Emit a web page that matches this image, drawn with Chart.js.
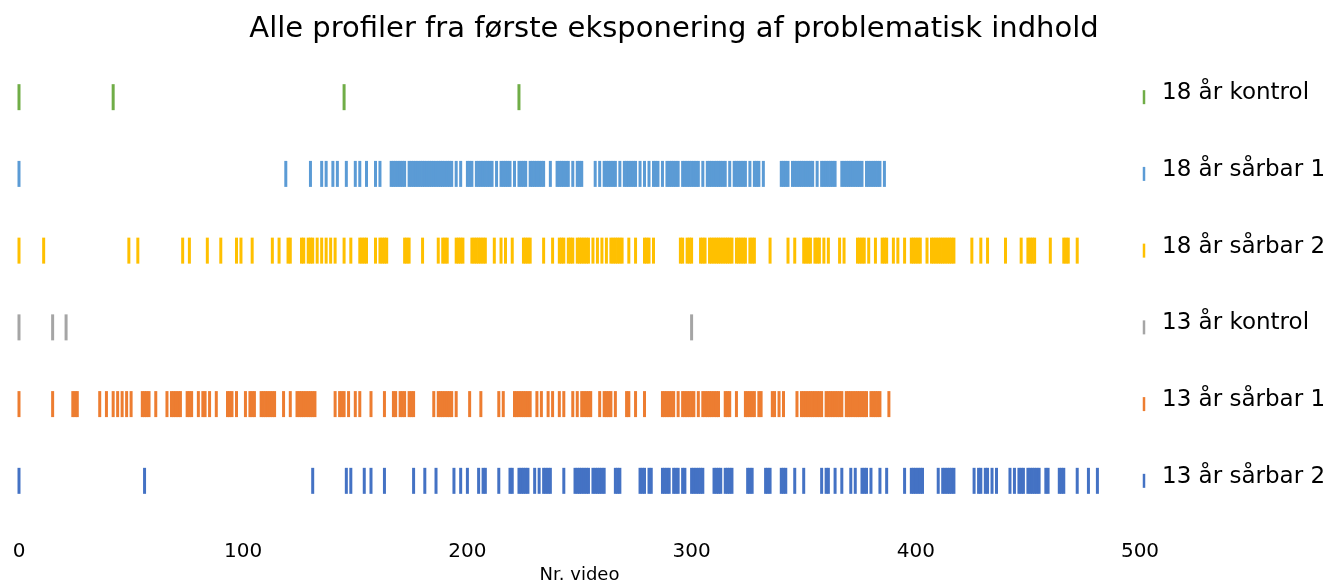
<!DOCTYPE html>
<html lang="da">
<head>
  <meta charset="UTF-8" />
  <title>Alle profiler fra første eksponering af problematisk indhold</title>
  <script src="https://cdn.jsdelivr.net/npm/chart.js"></script>
  <style>
    html, body { margin: 0; padding: 0; background: #fff; overflow: hidden; }
    #wrap { width: 1329px; height: 587px; }
  </style>
</head>
<body>
  <div id="wrap"><canvas id="chart"></canvas></div>

  <script>
    // profiles, top to bottom
    const profiles = ['18 år kontrol', '18 år sårbar 1', '18 år sårbar 2', '13 år kontrol', '13 år sårbar 1', '13 år sårbar 2'];
    const colors = ['#70AD47', '#5B9BD5', '#FFC000', '#A5A5A5', '#ED7D31', '#4472C4'];
    const xTicks = [0, 100, 200, 300, 400, 500];

    // video numbers where problematic content was shown
    const kontrol18 = [0, 42, 145, 223];

    const saarbar18a = [0, 119, 130, 135, 137, 140, 142, 146, 150, 152, 155, 159, 161,
      166, 167, 168, 169, 170, 171, 172,
      174, 175, 176, 177, 178, 179, 180, 181, 182, 183, 184, 185, 186, 187, 188, 189, 190, 191, 192, 193,
      195, 197, 200, 201, 202, 204, 205, 206, 207, 208, 209, 210, 211, 213,
      215, 216, 217, 218, 219, 221, 223, 224, 225, 226, 228, 229, 230, 231, 232, 233, 234, 237,
      240, 241, 242, 243, 244, 245, 247, 249, 250, 251, 257, 259,
      261, 262, 263, 264, 265, 266, 268, 270, 271, 272, 273, 274, 275, 277, 279, 281, 283, 284, 285, 287,
      289, 290, 291, 292, 293, 294, 296, 297, 298, 299, 300, 301, 302, 303, 305,
      307, 308, 309, 310, 311, 312, 313, 314, 315, 317, 319, 320, 321, 322, 323, 324, 326, 328, 329, 330, 332,
      340, 341, 342, 343, 345, 346, 347, 348, 349, 350, 351, 352, 353, 354, 356,
      358, 359, 360, 361, 362, 363, 364, 367, 368, 369, 370, 371, 372, 373, 374, 375, 376,
      378, 379, 380, 381, 382, 383, 384, 386];

    const saarbar18b = [0, 11, 49, 53, 73, 76, 84, 90, 97, 99, 104, 113, 116, 120, 121, 126, 127, 129, 130, 131,
      133, 135, 137, 139, 141, 145, 148, 152, 153, 154, 155, 159, 161, 162, 163, 164, 172, 173, 174, 180, 187,
      189, 190, 191, 195, 196, 197, 198, 202, 203, 204, 205, 206, 207, 208, 212, 215, 217, 220, 225, 226, 227, 228,
      234, 238, 241, 242, 243, 245, 246, 247, 249, 250, 251, 252, 253, 254, 256, 258, 260, 262,
      264, 265, 266, 267, 268, 269, 272, 275, 279, 280, 281, 283, 295, 296, 298, 299, 300, 304, 305, 306,
      308, 309, 310, 311, 312, 313, 314, 315, 316, 317, 318, 320, 321, 322, 323, 324, 326, 327, 328,
      335, 343, 346, 350, 351, 352, 353, 355, 356, 357, 359, 361, 366, 368, 374, 375, 376, 377, 379, 382,
      385, 386, 387, 390, 392, 395, 398, 399, 400, 401, 402, 405,
      407, 408, 409, 410, 411, 412, 413, 414, 415, 416, 417, 425, 429, 432, 440, 447, 450, 451, 452, 453,
      460, 466, 467, 468, 472];

    const kontrol13 = [0, 15, 21, 300];

    const saarbar13a = [0, 15, 24, 25, 26, 36, 39, 42, 44, 46, 48, 50, 55, 56, 57, 58, 61, 66, 68, 69, 70, 71, 72,
      75, 76, 77, 80, 82, 83, 85, 88, 93, 94, 95, 97, 101, 103, 104, 105, 108, 109, 110, 111, 112, 113, 114,
      118, 121, 124, 125, 126, 127, 128, 129, 130, 131, 132,
      141, 143, 144, 145, 147, 150, 152, 157, 163, 167, 168, 170, 171, 172, 174, 175, 176,
      185, 187, 188, 189, 190, 191, 192, 193, 195, 201, 206, 214, 216, 221, 222, 223, 224, 225, 226, 227, 228,
      231, 233, 236, 238, 241, 243, 247, 249, 251, 252, 253, 254, 255, 259, 261, 262, 263, 264, 266,
      271, 272, 275, 279, 287, 288, 289, 290, 291, 292, 294, 296, 297, 298, 299, 300, 301, 303,
      305, 306, 307, 308, 309, 310, 311, 312, 315, 316, 317, 320, 324, 325, 326, 327, 328, 330, 331,
      336, 337, 339, 341, 347, 349, 350, 351, 352, 353, 354, 355, 356, 357, 358,
      360, 361, 362, 363, 364, 365, 366, 367, 369, 370, 371, 372, 373, 374, 375, 376, 377, 378,
      380, 381, 382, 383, 384, 388];

    const saarbar13b = [0, 56, 131, 146, 148, 154, 157, 163, 176, 181, 186, 194, 197, 200, 205, 207, 208, 214,
      219, 220, 223, 224, 225, 226, 227, 230, 232, 234, 235, 236, 237, 243,
      248, 249, 250, 251, 252, 253, 254, 256, 257, 258, 259, 260, 261, 266, 267, 268,
      277, 278, 279, 281, 282, 287, 288, 289, 290, 292, 293, 294, 296, 297, 300, 301, 302, 303, 304, 305,
      310, 311, 312, 313, 315, 316, 317, 318, 325, 326, 327, 333, 334, 335, 340, 341, 342, 346, 350,
      358, 360, 361, 364, 367, 371, 373, 376, 377, 378, 380, 384, 387, 395, 398, 399, 400, 401, 402, 403,
      410, 412, 413, 414, 415, 416, 417, 426, 428, 429, 431, 432, 434, 436, 442, 444, 446, 447, 448,
      450, 451, 452, 453, 454, 455, 458, 459, 464, 465, 466, 472, 477, 481];

    const series = [kontrol18, saarbar18a, saarbar18b, kontrol13, saarbar13a, saarbar13b];

    const FONT = "'DejaVu Sans', sans-serif";

    // small coloured tick in front of each row label, like the original legend
    const legendMarks = {
      id: 'legendMarks',
      afterDraw(chart) {
        const { ctx, chartArea } = chart;
        const yScale = chart.scales.y;
        ctx.save();
        ctx.lineWidth = 2.5;
        profiles.forEach((p, i) => {
          const py = yScale.getPixelForValue(i);
          ctx.strokeStyle = colors[i];
          ctx.beginPath();
          ctx.moveTo(chartArea.right + 4, py - 7);
          ctx.lineTo(chartArea.right + 4, py + 7);
          ctx.stroke();
        });
        ctx.restore();
      }
    };

    new Chart(document.getElementById('chart'), {
      type: 'scatter',
      data: {
        datasets: series.map((vals, i) => ({
          label: profiles[i],
          data: vals.map(v => ({ x: v, y: profiles[i] })),
          clip: false,
          pointStyle: 'line',
          rotation: 90,
          radius: 13,
          hoverRadius: 13,
          borderWidth: 3,
          hoverBorderWidth: 3,
          borderColor: colors[i],
          backgroundColor: colors[i]
        }))
      },
      options: {
        responsive: true,
        maintainAspectRatio: false,
        animation: false,
        layout: { autoPadding: false, padding: { left: 19, right: 0, top: 0, bottom: 0 } },
        plugins: {
          legend: { display: false },
          tooltip: { enabled: false },
          title: {
            display: true,
            text: 'Alle profiler fra første eksponering af problematisk indhold',
            color: '#000',
            font: { family: FONT, size: 29, weight: 'normal' },
            padding: { top: 12, bottom: 12 }
          }
        },
        scales: {
          x: {
            type: 'linear',
            min: 0,
            max: 500,
            afterBuildTicks: (scale) => { scale.ticks = xTicks.map(v => ({ value: v })); },
            grid: { display: false, drawTicks: false },
            border: { display: false },
            // tall line box pushes the labels down without widening the left padding
            ticks: { color: '#000', padding: 10, font: { family: FONT, size: 20, lineHeight: 2.26 } },
            title: {
              display: true,
              text: 'Nr. video',
              color: '#000',
              font: { family: FONT, size: 18 },
              padding: { top: -20, bottom: 1 }
            }
          },
          y: {
            type: 'category',
            position: 'right',
            labels: profiles,
            offset: true,
            grid: { display: false, drawTicks: false },
            border: { display: false },
            ticks: { color: '#000', padding: 22, labelOffset: -4, font: { family: FONT, size: 23 } },
            afterFit: (scale) => { scale.width = 189; }
          }
        }
      },
      plugins: [legendMarks]
    });
  </script>
</body>
</html>
